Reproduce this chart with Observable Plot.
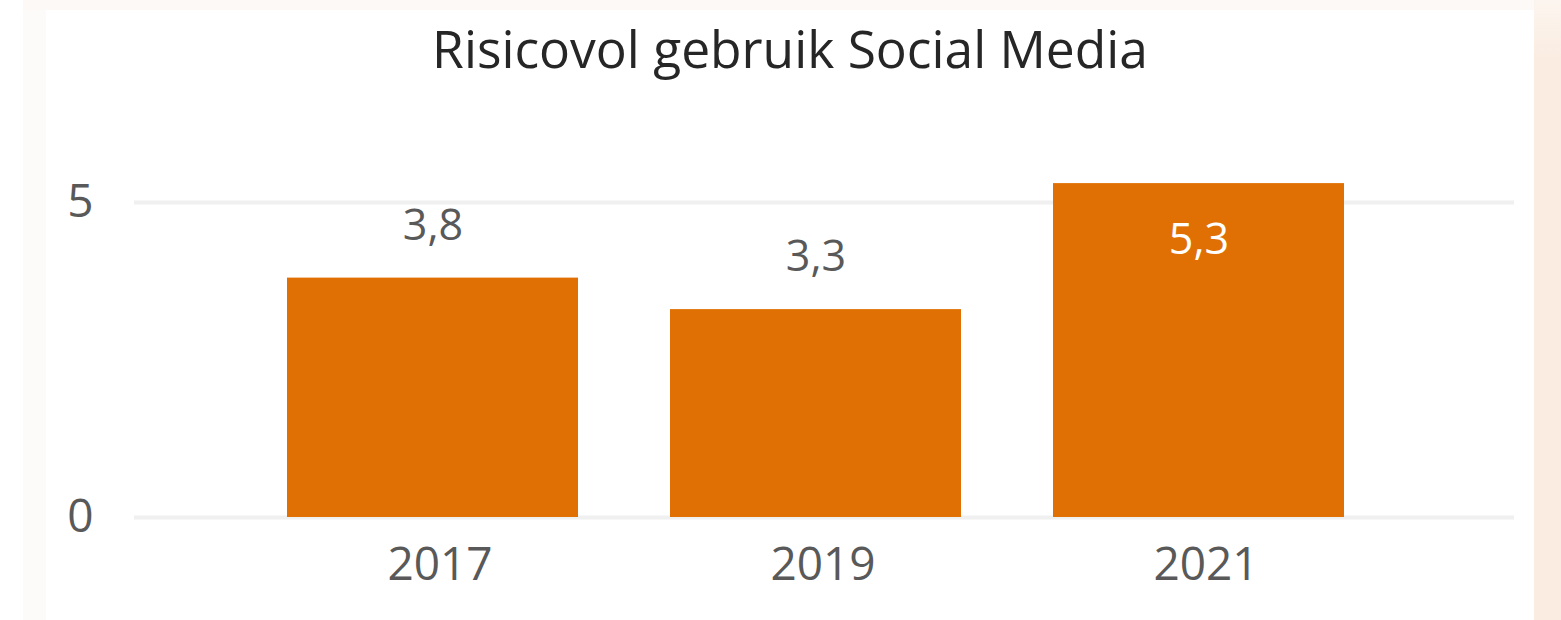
<!DOCTYPE html>
<html>
<head>
<meta charset="utf-8">
<script src="https://cdn.jsdelivr.net/npm/d3@7"></script>
<script src="https://cdn.jsdelivr.net/npm/@observablehq/plot@0.6"></script>
<style>
  html, body { margin: 0; padding: 0; background: #ffffff; width: 1561px; height: 620px; overflow: hidden; }
  #stage { position: relative; width: 1561px; height: 620px; }
  .strip-left { position: absolute; left: 23px; top: 0; width: 23px; height: 620px; background: #fdfbf9; }
  .strip-top { position: absolute; left: 23px; top: 0; width: 1538px; height: 10px; background: #fdf9f6; }
  .strip-right { position: absolute; left: 1534px; top: 0; width: 27px; height: 620px; background: linear-gradient(#fcf5ef, #faece1 60px, #faece1); }
  .card { position: absolute; left: 46px; top: 10px; width: 1488px; height: 610px; background: #ffffff; }
  #title { position: absolute; left: 0; top: 16px; width: 1580px; text-align: center;
           font-family: "Open Sans", sans-serif; font-size: 51.5px; color: #262626; line-height: 64px; }
  #chart { position: absolute; left: 0; top: 0; }
</style>
</head>
<body>
<div id="stage">
  <div class="strip-left"></div>
  <div class="strip-top"></div>
  <div class="strip-right"></div>
  <div class="card"></div>
  <div id="title">Risicovol gebruik Social Media</div>
  <div id="chart"></div>
</div>
<script>
const years = ["2017", "2019", "2021"];
const values = [3.8, 3.3, 5.3];
const yTicks = [0, 5];
const yMax = 5;

const data = years.map((y, i) => ({year: y, value: values[i]}));
const fmt = v => v.toFixed(1).replace(".", ",");

const chart = Plot.plot({
  width: 1561,
  height: 620,
  marginLeft: 134,
  marginRight: 47,
  marginTop: 202,
  marginBottom: 103,
  style: {background: "transparent", fontFamily: "'Open Sans', sans-serif"},
  x: {domain: years, paddingInner: 0.24, paddingOuter: 0.12, insetLeft: 107, insetRight: 123, label: null},
  y: {domain: [0, yMax], label: null},
  marks: [
    Plot.ruleY(yTicks, {stroke: "#f0f0f0", strokeWidth: 4}),
    Plot.barY(data, {x: "year", y: "value", fill: "#e07004"}),
    Plot.text(data.filter(d => d.value <= yMax), {x: "year", y: "value", text: d => fmt(d.value), dy: -52, fill: "#595959", fontSize: 43}),
    Plot.text(data.filter(d => d.value > yMax), {x: "year", y: "value", text: d => fmt(d.value), dy: 57, fill: "#ffffff", fontSize: 43}),
    Plot.axisY(yTicks, {tickSize: 0, tickPadding: 41, fontSize: 46, fill: "#595959", label: null, tickFormat: d => String(d)}),
    Plot.axisX({tickSize: 0, tickPadding: 30, dx: 7, fontSize: 46, fill: "#595959", label: null})
  ]
});
document.getElementById("chart").appendChild(chart);
</script>
</body>
</html>
